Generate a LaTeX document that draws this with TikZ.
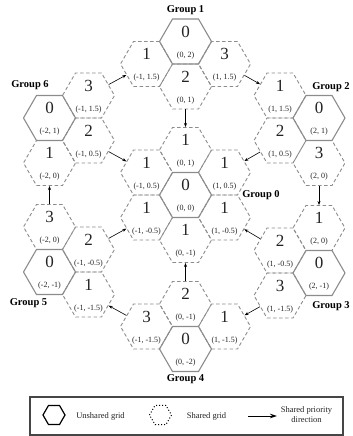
\documentclass[tikz,border=0pt]{standalone}
\usepackage{fontspec}
\setmainfont{Liberation Serif}
\usetikzlibrary{shapes.geometric,arrows.meta}
\definecolor{hexline}{RGB}{140,140,140}
\definecolor{txtdark}{RGB}{35,35,35}
\definecolor{boxline}{RGB}{70,70,70}
\tikzset{
  hexbase/.style={regular polygon, regular polygon sides=6, minimum size=52pt, inner sep=0pt},
  unshared/.style={hexbase, draw=hexline, line width=1.1pt},
  shared/.style={hexbase, draw=hexline, line width=0.9pt, dash pattern=on 3.5pt off 2.5pt},
  numtext/.style={font=\fontsize{17}{17}\selectfont, text=txtdark, inner sep=0pt},
  coordtext/.style={font=\fontsize{8}{8}\selectfont, text=txtdark, inner sep=0pt},
  grouptext/.style={font=\fontsize{10.5}{10.5}\selectfont\bfseries, inner sep=0pt},
  legendtext/.style={font=\fontsize{8.5}{10}\selectfont, text=txtdark, inner sep=0pt, align=center},
  arr/.style={-{Stealth[length=4pt,width=3pt]}, line width=0.6pt},
}
\newcommand{\hexcell}[6]{%
  \node[#4] (#1) at (#2,#3) {};
  \node[numtext] (#1n) at ([yshift=10pt]#1.center) {#5};
  \node[coordtext] (#1l) at ([yshift=-14pt]#1.center) {#6};
}
\begin{document}
\begin{tikzpicture}[x=1pt,y=-1pt]
\useasboundingbox (0,0) rectangle (353,436);
% ---- shared cells ----
% group 0
\hexcell{g0u}{185.5}{150}{shared}{1}{(0, 1)}
\hexcell{g0d}{185.5}{240}{shared}{1}{(0, -1)}
\hexcell{g0ul}{146.5}{172.5}{shared}{1}{(-1, 0.5)}
\hexcell{g0ll}{146.5}{217.5}{shared}{1}{(-1, -0.5)}
\hexcell{g0ur}{224.5}{172.5}{shared}{1}{(1, 0.5)}
\hexcell{g0lr}{224.5}{217.5}{shared}{1}{(1, -0.5)}
% group 1
\hexcell{g1c1}{146.5}{64}{shared}{1}{(-1, 1.5)}
\hexcell{g1c2}{185.5}{86.5}{shared}{2}{(0, 1)}
\hexcell{g1c3}{224.5}{64}{shared}{3}{(1, 1.5)}
% group 2
\hexcell{g2c1}{280}{95.5}{shared}{1}{(1, 1.5)}
\hexcell{g2c2}{280}{140.5}{shared}{2}{(1, 0.5)}
\hexcell{g2c3}{319}{163}{shared}{3}{(2, 0)}
% group 3
\hexcell{g3c1}{319}{228}{shared}{1}{(2, 0)}
\hexcell{g3c2}{280}{250.5}{shared}{2}{(1, -0.5)}
\hexcell{g3c3}{280}{295.5}{shared}{3}{(1, -1.5)}
% group 4
\hexcell{g4c1}{224.5}{326.5}{shared}{1}{(1, -1.5)}
\hexcell{g4c2}{185.5}{304}{shared}{2}{(0, -1)}
\hexcell{g4c3}{146.5}{326.5}{shared}{3}{(-1, -1.5)}
% group 5
\hexcell{g5c1}{88.5}{294.5}{shared}{1}{(-1, -1.5)}
\hexcell{g5c2}{88.5}{249.5}{shared}{2}{(-1, -0.5)}
\hexcell{g5c3}{49.5}{227}{shared}{3}{(-2, 0)}
% group 6
\hexcell{g6c1}{49.5}{163}{shared}{1}{(-2, 0)}
\hexcell{g6c2}{88.5}{140.5}{shared}{2}{(-1, 0.5)}
\hexcell{g6c3}{88.5}{95.5}{shared}{3}{(-1, 1.5)}
% ---- unshared cells ----
\hexcell{g0c0}{185.5}{195}{unshared}{0}{(0, 0)}
\hexcell{g1c0}{185.5}{41.5}{unshared}{0}{(0, 2)}
\hexcell{g2c0}{319}{118}{unshared}{0}{(2, 1)}
\hexcell{g3c0}{319}{273}{unshared}{0}{(2, -1)}
\hexcell{g4c0}{185.5}{349}{unshared}{0}{(0, -2)}
\hexcell{g5c0}{49.5}{272}{unshared}{0}{(-2, -1)}
\hexcell{g6c0}{49.5}{118}{unshared}{0}{(-2, 1)}
% ---- group labels ----
\node[grouptext] (lg1) at (185.5,10) {Group 1};
\node[grouptext] (lg2) at (331,87) {Group 2};
\node[grouptext] (lg0) at (261,195) {Group 0};
\node[grouptext] (lg3) at (331,306) {Group 3};
\node[grouptext] (lg4) at (185.5,379) {Group 4};
\node[grouptext] (lg5) at (28.5,303) {Group 5};
\node[grouptext] (lg6) at (30,85) {Group 6};
% ---- priority arrows ----
\draw[arr] (g6c3) -- (g1c1);
\draw[arr] (g1c2) -- (g0u);
\draw[arr] (g1c3) -- (g2c1);
\draw[arr] (g2c2) -- (g0ur);
\draw[arr] (g2c3) -- (g3c1);
\draw[arr] (g3c2) -- (g0lr);
\draw[arr] (g3c3) -- (g4c1);
\draw[arr] (g4c2) -- (g0d);
\draw[arr] (g4c3) -- (g5c1);
\draw[arr] (g5c2) -- (g0ll);
\draw[arr] (g5c3) -- (g6c1);
\draw[arr] (g6c2) -- (g0ul);
% ---- legend ----
\node[draw=boxline, line width=1.6pt, minimum width=313pt, minimum height=38pt, inner sep=0pt] (legbox) at (186.5,416) {};
\node[hexbase, minimum size=22pt, draw=black, line width=1.2pt] (leghex) at (54,415) {};
\node[legendtext] (legt1) at (100.5,416) {Unshared grid};
\node[hexbase, minimum size=22pt, draw=black, line width=1pt, dotted] (legdot) at (160.5,415) {};
\node[legendtext] (legt2) at (206.5,416) {Shared grid};
\coordinate (la) at (248,416);
\coordinate (lb) at (277,416);
\draw[-{Stealth[length=7pt,width=4.5pt]}, line width=1pt] (la) -- (lb);
\node[legendtext] (legt3) at (306.5,415) {Shared priority\\direction};
\end{tikzpicture}
\end{document}
